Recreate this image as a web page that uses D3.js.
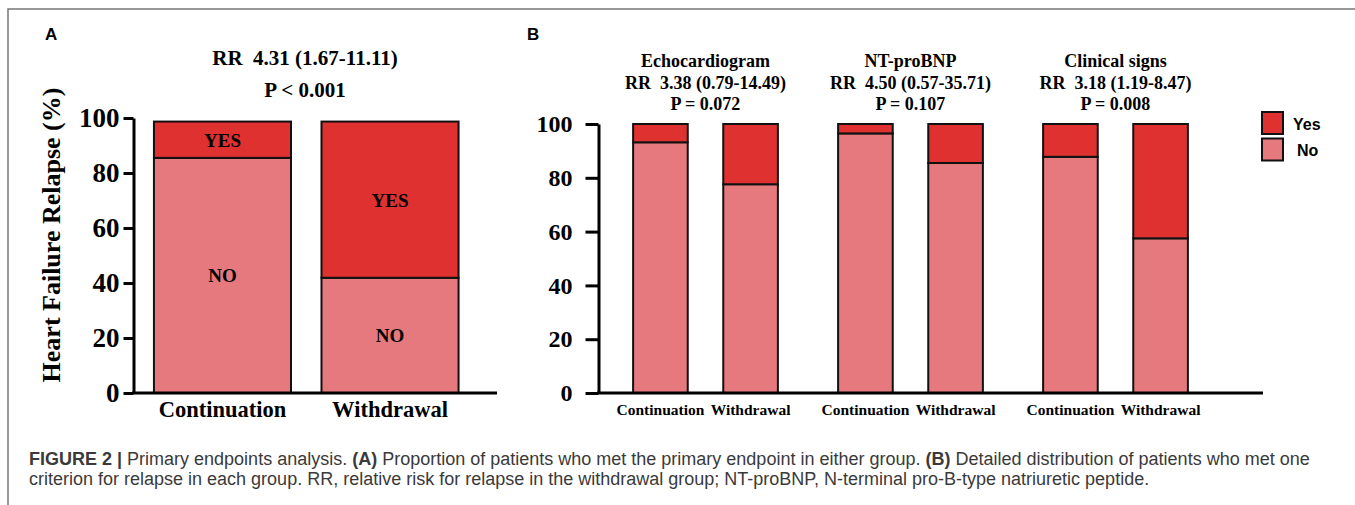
<!DOCTYPE html>
<html>
<head>
<meta charset="utf-8">
<script src="https://cdn.jsdelivr.net/npm/d3@7"></script>
<style>
  body { margin: 0; background: #fff; }
  svg { display: block; }
</style>
</head>
<body>
<div id="chart"></div>
<script>
// ---- data ----
const groupsA = ['Continuation', 'Withdrawal'];
const noA = [85.5, 41.9];
const yesA = [13.2, 56.8];
const titleA = ['RR  4.31 (1.67-11.11)', 'P < 0.001'];

const criteriaB = ['Echocardiogram', 'NT-proBNP', 'Clinical signs'];
const rrB = ['RR  3.38 (0.79-14.49)', 'RR  4.50 (0.57-35.71)', 'RR  3.18 (1.19-8.47)'];
const pB = ['P = 0.072', 'P = 0.107', 'P = 0.008'];
const noB = [[93.2, 77.6], [96.5, 85.5], [87.8, 57.5]];
const yesB = [[6.8, 22.4], [3.5, 14.5], [12.2, 42.5]];

const yTicks = [0, 20, 40, 60, 80, 100];
const legendKeys = ['Yes', 'No'];

const captionLine1 = [
    { t: 'FIGURE 2 | ', b: true },
    { t: 'Primary endpoints analysis. ', b: false },
    { t: '(A)', b: true },
    { t: ' Proportion of patients who met the primary endpoint in either group. ', b: false },
    { t: '(B)', b: true },
    { t: ' Detailed distribution of patients who met one', b: false }
];
const captionLine2 = 'criterion for relapse in each group. RR, relative risk for relapse in the withdrawal group; NT-proBNP, N-terminal pro-B-type natriuretic peptide.';

// ---- styling ----
const YES_COLOR = '#e03131';
const NO_COLOR = '#e6797e';
const SERIF = "'Times New Roman', 'Liberation Serif', serif";
const SANS = "Arial, 'Liberation Sans', Helvetica, sans-serif";

const svg = d3.select('#chart')
    .append('svg')
    .attr('width', 1355)
    .attr('height', 505);

// figure frame (top and left edges)
svg.append('path')
    .attr('d', 'M8,505V9H1355')
    .attr('fill', 'none')
    .attr('stroke', '#777')
    .attr('stroke-width', 1.5);

function styleAxis(g, fontSize) {
    g.attr('font-size', null).attr('font-family', null);
    g.select('.domain').attr('stroke', '#000').attr('stroke-width', 3);
    g.selectAll('.tick line').attr('stroke', '#000').attr('stroke-width', 3);
    g.selectAll('.tick text')
        .style('font-family', SERIF)
        .style('font-weight', 'bold')
        .style('font-size', fontSize + 'px')
        .attr('fill', '#000');
}

/* ---------------- Panel A ---------------- */
const panelA = svg.append('g');

panelA.append('text')
    .attr('x', 45).attr('y', 40)
    .style('font-family', SANS).style('font-weight', 'bold').style('font-size', '17px')
    .text('A');

const yA = d3.scaleLinear().domain([0, 100]).range([393, 118]);
const xA = d3.scaleBand()
    .domain(groupsA)
    .range([133, 479.5])
    .paddingInner(0.182)
    .paddingOuter(0.125);

titleA.forEach((t, i) => {
    panelA.append('text')
        .attr('x', 305).attr('y', 65 + i * 32)
        .attr('text-anchor', 'middle')
        .style('font-family', SERIF).style('font-weight', 'bold').style('font-size', '21px')
        .style('white-space', 'pre')
        .text(t);
});

const dataA = groupsA.map((g, i) => ({ group: g, no: noA[i], yes: yesA[i] }));

const barsA = panelA.selectAll('.bar-a')
    .data(dataA)
    .enter()
    .append('g')
    .attr('class', 'bar-a');

barsA.append('rect')
    .attr('x', d => xA(d.group))
    .attr('width', xA.bandwidth())
    .attr('y', d => yA(d.no))
    .attr('height', d => yA(0) - yA(d.no))
    .attr('fill', NO_COLOR)
    .attr('stroke', '#111').attr('stroke-width', 2);

barsA.append('rect')
    .attr('x', d => xA(d.group))
    .attr('width', xA.bandwidth())
    .attr('y', d => yA(d.no + d.yes))
    .attr('height', d => yA(d.no) - yA(d.no + d.yes))
    .attr('fill', YES_COLOR)
    .attr('stroke', '#111').attr('stroke-width', 2);

// segment labels
barsA.append('text')
    .attr('x', d => xA(d.group) + xA.bandwidth() / 2)
    .attr('y', d => (yA(d.no) + yA(0)) / 2 + 7)
    .attr('text-anchor', 'middle')
    .style('font-family', SERIF).style('font-weight', 'bold').style('font-size', '19px')
    .text('NO');

barsA.append('text')
    .attr('x', d => xA(d.group) + xA.bandwidth() / 2)
    .attr('y', d => (yA(d.no + d.yes) + yA(d.no)) / 2 + 7)
    .attr('text-anchor', 'middle')
    .style('font-family', SERIF).style('font-weight', 'bold').style('font-size', '19px')
    .text('YES');

const axisA = panelA.append('g')
    .attr('transform', 'translate(133.5,0)')
    .call(d3.axisLeft(yA).tickValues(yTicks).tickSize(10).tickSizeOuter(0).tickPadding(4));
styleAxis(axisA, 27);

panelA.append('line')
    .attr('x1', 132).attr('x2', 497)
    .attr('y1', yA(0)).attr('y2', yA(0))
    .attr('stroke', '#000').attr('stroke-width', 3);

panelA.selectAll('.xlab-a')
    .data(groupsA)
    .enter()
    .append('text')
    .attr('class', 'xlab-a')
    .attr('x', d => xA(d) + xA.bandwidth() / 2)
    .attr('y', 417)
    .attr('text-anchor', 'middle')
    .style('font-family', SERIF).style('font-weight', 'bold').style('font-size', '22.5px')
    .text(d => d);

panelA.append('text')
    .attr('transform', 'translate(60,235) rotate(-90)')
    .attr('text-anchor', 'middle')
    .style('font-family', SERIF).style('font-weight', 'bold').style('font-size', '26px')
    .text('Heart Failure Relapse (%)');

/* ---------------- Panel B ---------------- */
const panelB = svg.append('g');

panelB.append('text')
    .attr('x', 527).attr('y', 40)
    .style('font-family', SANS).style('font-weight', 'bold').style('font-size', '17px')
    .text('B');

const yB = d3.scaleLinear().domain([0, 100]).range([393, 124]);
const x0B = d3.scaleBand().domain(criteriaB).range([603, 1218]).padding(0);
const x1B = d3.scaleBand()
    .domain(groupsA)
    .range([0, x0B.bandwidth()])
    .paddingInner(0.394)
    .paddingOuter(0.334);

const groupB = panelB.selectAll('.group-b')
    .data(criteriaB.map((c, i) => ({ crit: c, i: i })))
    .enter()
    .append('g')
    .attr('class', 'group-b')
    .attr('transform', d => `translate(${x0B(d.crit)},0)`);

// headers
const head = (sel, y, txt) => sel.append('text')
    .attr('x', x0B.bandwidth() / 2)
    .attr('y', y)
    .attr('text-anchor', 'middle')
    .style('font-family', SERIF).style('font-weight', 'bold').style('font-size', '18px')
    .style('white-space', 'pre')
    .text(txt);
head(groupB, 67, d => d.crit);
head(groupB, 89, d => rrB[d.i]);
head(groupB, 110, d => pB[d.i]);

const segB = groupB.selectAll('.bar-b')
    .data(d => groupsA.map((g, j) => ({ group: g, no: noB[d.i][j], yes: yesB[d.i][j] })))
    .enter()
    .append('g')
    .attr('class', 'bar-b');

segB.append('rect')
    .attr('x', d => x1B(d.group))
    .attr('width', x1B.bandwidth())
    .attr('y', d => yB(d.no))
    .attr('height', d => yB(0) - yB(d.no))
    .attr('fill', NO_COLOR)
    .attr('stroke', '#111').attr('stroke-width', 2);

segB.append('rect')
    .attr('x', d => x1B(d.group))
    .attr('width', x1B.bandwidth())
    .attr('y', d => yB(d.no + d.yes))
    .attr('height', d => yB(d.no) - yB(d.no + d.yes))
    .attr('fill', YES_COLOR)
    .attr('stroke', '#111').attr('stroke-width', 2);

segB.append('text')
    .attr('x', d => x1B(d.group) + x1B.bandwidth() / 2)
    .attr('y', 415)
    .attr('text-anchor', 'middle')
    .style('font-family', SERIF).style('font-weight', 'bold').style('font-size', '15.5px')
    .text(d => d.group);

const axisB = panelB.append('g')
    .attr('transform', 'translate(598.5,0)')
    .call(d3.axisLeft(yB).tickValues(yTicks).tickSize(13).tickSizeOuter(0).tickPadding(13));
styleAxis(axisB, 24);

panelB.append('line')
    .attr('x1', 597).attr('x2', 1263)
    .attr('y1', yB(0)).attr('y2', yB(0))
    .attr('stroke', '#000').attr('stroke-width', 3);

// legend
const legend = panelB.append('g').attr('transform', 'translate(1262,112)');
legendKeys.forEach((k, i) => {
    const row = legend.append('g').attr('transform', `translate(0,${i * 26.5})`);
    row.append('rect')
        .attr('width', 21).attr('height', 22)
        .attr('fill', k === 'Yes' ? YES_COLOR : NO_COLOR)
        .attr('stroke', '#111').attr('stroke-width', 2);
    row.append('text')
        .attr('x', k === 'Yes' ? 31 : 35)
        .attr('y', 17.5)
        .style('font-family', SANS).style('font-weight', 'bold').style('font-size', '16px')
        .text(k);
});

/* ---------------- Caption ---------------- */
const cap1 = svg.append('text')
    .attr('x', 29).attr('y', 465)
    .attr('fill', '#3a3a3a')
    .style('font-family', SANS).style('font-size', '15px')
    .style('white-space', 'pre');
captionLine1.forEach(p => {
    cap1.append('tspan')
        .style('font-weight', p.b ? 'bold' : 'normal')
        .text(p.t);
});
const cap2 = svg.append('text')
    .attr('x', 29).attr('y', 485)
    .attr('fill', '#3a3a3a')
    .style('font-family', SANS).style('font-size', '15px')
    .text(captionLine2);

// fit the caption width to the original line length
const w1 = cap1.node().getComputedTextLength();
const fs = 15 * 1281 / w1;
cap1.style('font-size', fs + 'px');
cap2.style('font-size', fs + 'px');
</script>
</body>
</html>
